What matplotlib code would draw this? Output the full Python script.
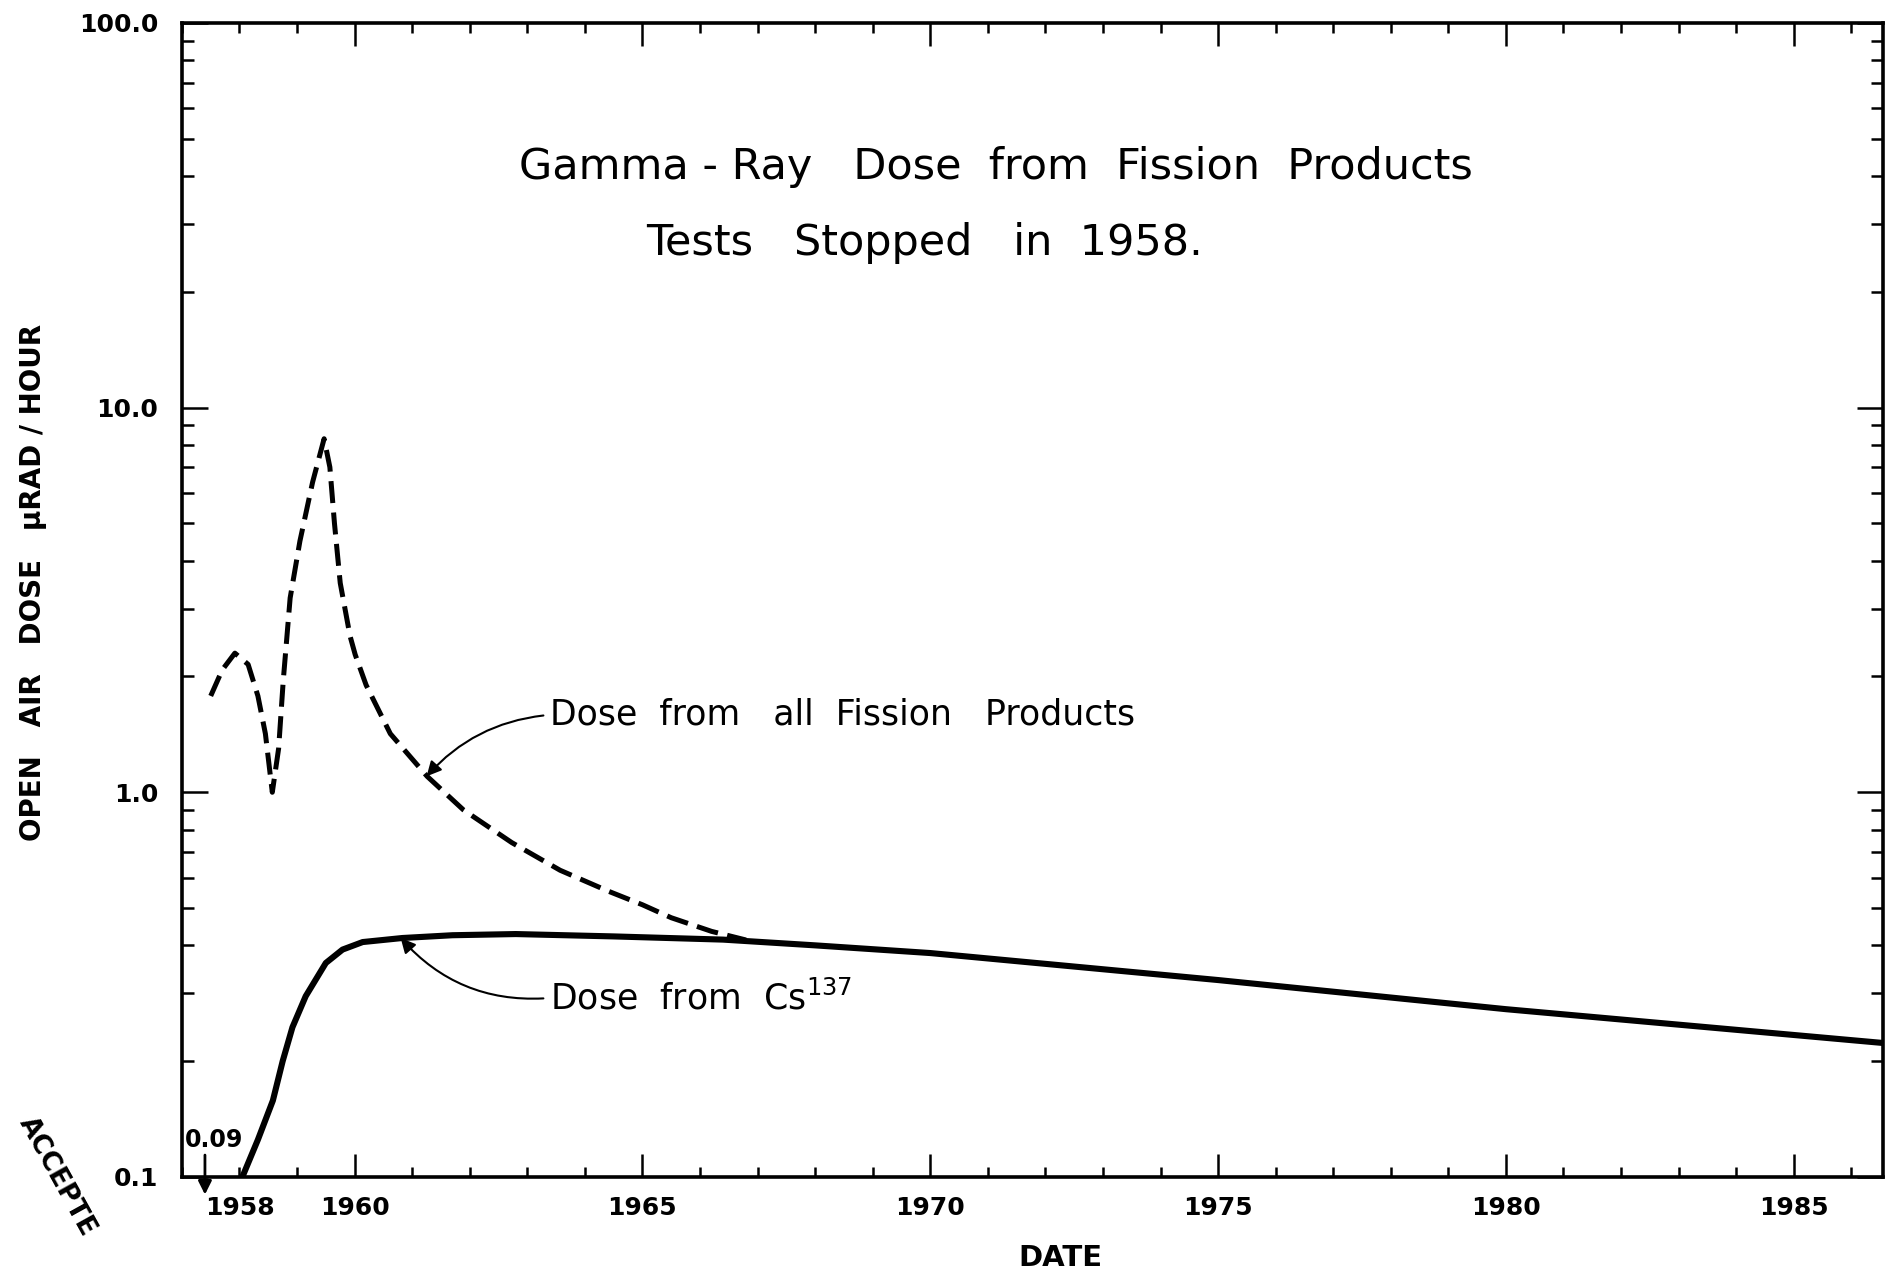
import matplotlib.pyplot as plt
import numpy as np
from matplotlib.ticker import FixedLocator, NullFormatter

# Dose from all fission products (dashed)
year_all = [1957.50, 1957.70, 1957.92, 1958.15, 1958.32, 1958.45, 1958.57,
            1958.68, 1958.76, 1958.88, 1959.05, 1959.27, 1959.47, 1959.57,
            1959.65, 1959.75, 1959.92, 1960.01, 1960.20, 1960.62, 1961.26,
            1961.89, 1962.73, 1963.57, 1964.41, 1965.00, 1965.50, 1966.20,
            1966.80]
dose_all = [1.78, 2.08, 2.30, 2.15, 1.78, 1.42, 1.00,
            1.30, 1.95, 3.20, 4.50, 6.40, 8.30, 7.00,
            5.00, 3.50, 2.55, 2.28, 1.90, 1.42, 1.10,
            0.90, 0.74, 0.627, 0.553, 0.510, 0.472, 0.435,
            0.413]

# Dose from Cs137 (solid)
year_cs = [1958.05, 1958.32, 1958.58, 1958.75, 1958.92, 1959.15, 1959.50,
           1959.79, 1960.14, 1960.83, 1961.70, 1962.80, 1964.50, 1966.40,
           1968.00, 1970.00, 1975.00, 1980.00, 1986.55]
dose_cs = [0.100, 0.125, 0.158, 0.200, 0.245, 0.295, 0.360,
           0.390, 0.408, 0.418, 0.425, 0.428, 0.422, 0.414,
           0.400, 0.382, 0.325, 0.273, 0.223]

# off-scale starting value marked by the little arrow
year_start = 1957.4
dose_start = 0.09

xmajor = [1960, 1965, 1970, 1975, 1980, 1985]
xminor = list(range(1957, 1987))
ymajor = [0.1, 1.0, 10.0, 100.0]
ylabels = ["0.1", "1.0", "10.0", "100.0"]
yminor = [m * d for d in [0.1, 1.0, 10.0] for m in range(2, 10)]

fig = plt.figure(figsize=(19.01, 12.75), dpi=100)
ax1 = fig.add_axes([0.0957, 0.0769, 0.8948, 0.9051])

ax1.plot(year_cs, dose_cs, color='k', lw=4.4, solid_capstyle='round',
         solid_joinstyle='round')
ax1.plot(year_all, dose_all, color='k', lw=3.6, linestyle=(0, (4.4, 1.9)))

ax1.set_yscale('log')
ax1.set_xlim(1957.0, 1986.55)
ax1.set_ylim(0.1, 100.0)

# ticks
ax1.xaxis.set_major_locator(FixedLocator(xmajor))
ax1.set_xticklabels([str(y) for y in xmajor])
ax1.set_xticks(xminor, minor=True)
ax1.set_xticklabels(["1958" if y == 1958 else "" for y in xminor], minor=True)
ax1.yaxis.set_major_locator(FixedLocator(ymajor))
ax1.set_yticklabels(ylabels)
ax1.yaxis.set_minor_locator(FixedLocator(yminor))
ax1.yaxis.set_minor_formatter(NullFormatter())

ax1.tick_params(axis='both', which='both', direction='in', top=True, right=True,
                width=1.8, colors='k')
ax1.tick_params(axis='x', which='major', length=16.5, pad=14)
ax1.tick_params(axis='x', which='minor', length=7.5, pad=14)
ax1.tick_params(axis='y', which='major', length=19, pad=17)
ax1.tick_params(axis='y', which='minor', length=8.5)
for lab in ax1.get_xticklabels(which='both') + ax1.get_yticklabels():
    lab.set_fontsize(18)
    lab.set_fontweight('bold')
for sp in ax1.spines.values():
    sp.set_linewidth(2.6)

# title text inside the frame
ax1.text(0.198, 0.875, "Gamma - Ray   Dose  from  Fission  Products",
         transform=ax1.transAxes, fontsize=31, ha='left', va='center')
ax1.text(0.273, 0.809, "Tests   Stopped   in  1958.",
         transform=ax1.transAxes, fontsize=31, ha='left', va='center')

# curve labels with arrows
ax1.annotate("Dose  from   all  Fission   Products", xy=(1961.25, 1.10),
             xytext=(1963.4, 1.59), fontsize=25, ha='left', va='center',
             arrowprops=dict(arrowstyle='-|>', color='k', lw=1.5, mutation_scale=22,
                             relpos=(0, 0.5), shrinkA=3, shrinkB=0,
                             connectionstyle='arc3,rad=0.2'))
ax1.annotate(r"Dose  from  Cs$^{137}$", xy=(1960.8, 0.418),
             xytext=(1963.4, 0.292), fontsize=25, ha='left', va='center',
             arrowprops=dict(arrowstyle='-|>', color='k', lw=1.5, mutation_scale=22,
                             relpos=(0, 0.5), shrinkA=3, shrinkB=0,
                             connectionstyle='arc3,rad=-0.25'))

# 0.09 start value, below the axis
ax1.annotate("", xy=(year_start, dose_start), xytext=(year_start, 0.114),
             annotation_clip=False,
             arrowprops=dict(arrowstyle='-|>', color='k', lw=2, mutation_scale=20,
                             shrinkA=0, shrinkB=0))
ax1.text(0.002, 0.032, "0.09", transform=ax1.transAxes, fontsize=17,
         fontweight='bold', ha='left', va='center')

# axis labels
fig.text(0.0174, 0.5435, "OPEN   AIR   DOSE   \u00b5RAD / HOUR", rotation=90,
         fontsize=20, fontweight='bold', ha='center', va='center')
fig.text(0.5576, 0.0133, "DATE", fontsize=21, fontweight='bold',
         ha='center', va='center')

# stamp remnant in the corner
fig.text(0.013, 0.123, "ACCEPTE", rotation=-61, rotation_mode='anchor',
         fontsize=19, fontweight='heavy', ha='left', va='center')

plt.savefig("out.png", dpi=100)
